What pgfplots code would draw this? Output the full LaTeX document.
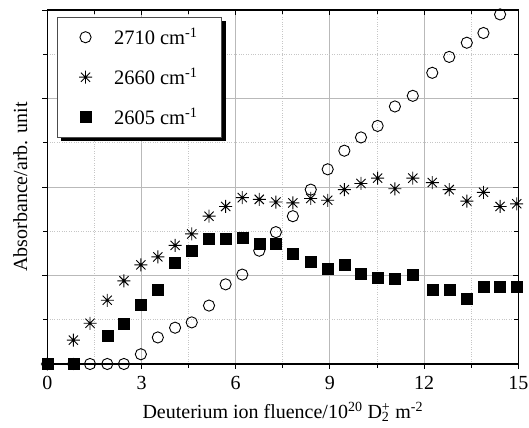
\documentclass[border=0pt]{standalone}
\usepackage{fontspec}
\setmainfont{Liberation Serif}
\usepackage{pgfplots}
\pgfplotsset{compat=1.18}
\usetikzlibrary{shadows}

% eight-armed star used for the 2660 cm-1 band
\pgfdeclareplotmark{star8}{%
  \pgfpathmoveto{\pgfqpoint{-\pgfplotmarksize}{0pt}}%
  \pgfpathlineto{\pgfqpoint{\pgfplotmarksize}{0pt}}%
  \pgfpathmoveto{\pgfqpoint{0pt}{-\pgfplotmarksize}}%
  \pgfpathlineto{\pgfqpoint{0pt}{\pgfplotmarksize}}%
  \pgfpathmoveto{\pgfqpoint{-0.7071\pgfplotmarksize}{-0.7071\pgfplotmarksize}}%
  \pgfpathlineto{\pgfqpoint{0.7071\pgfplotmarksize}{0.7071\pgfplotmarksize}}%
  \pgfpathmoveto{\pgfqpoint{-0.7071\pgfplotmarksize}{0.7071\pgfplotmarksize}}%
  \pgfpathlineto{\pgfqpoint{0.7071\pgfplotmarksize}{-0.7071\pgfplotmarksize}}%
  \pgfusepathqstroke}

\pgfplotstableread{
x     a     b     c
0     0     0     0
0.83  0     0.27  0
1.36  0     0.46  nan
1.91  0     0.72  0.32
2.44  0     0.94  0.46
2.98  0.11  1.12  0.67
3.52  0.30  1.21  0.84
4.07  0.41  1.34  1.14
4.60  0.47  1.47  1.28
5.15  0.66  1.67  1.42
5.68  0.90  1.78  1.42
6.21  1.01  1.88  1.43
6.75  1.28  1.86  1.36
7.28  1.49  1.83  1.36
7.82  1.67  1.82  1.25
8.39  1.97  1.87  1.16
8.93  2.20  1.85  1.08
9.46  2.41  1.97  1.12
9.99  2.56  2.04  1.02
10.52 2.69  2.10  0.98
11.07 2.91  1.98  0.96
11.64 3.03  2.10  1.01
12.26 3.29  2.05  0.84
12.80 3.47  1.97  0.84
13.36 3.63  1.84  0.74
13.89 3.74  1.94  0.87
14.42 3.95  1.78  0.87
14.95 4.02  1.81  0.87
}\fluence

\begin{document}
\begin{tikzpicture}
\pgfplotsset{
  frame/.style={
    scale only axis, width=471bp, height=354bp,
    xmin=0, xmax=15, ymin=0, ymax=4,
    xtick={0,3,...,15}, ytick={0,1,...,4},
    minor x tick num=1, minor y tick num=1,
    major tick length=5bp, minor tick length=4bp,
    every tick/.style={black, line width=0.9bp},
  }
}
\begin{axis}[
  frame, name=ax,
  axis line style={line width=1.3bp},
  xtick pos=left, ytick pos=left, tick align=outside,
  yticklabels={},
  grid=both,
  major grid style={gray!55, line width=0.9bp},
  minor grid style={gray!45, dotted, line width=0.8bp},
  font=\fontsize{20bp}{24bp}\selectfont,
  /pgf/number format/assume math mode=true,
  xticklabel style={font=\fontsize{20bp}{24bp}\selectfont, yshift=-4bp},
  xlabel={Deuterium ion fluence/10\textsuperscript{20} D\rlap{\textsubscript{2}}\textsuperscript{+} m\textsuperscript{-2}},
  ylabel={Absorbance/arb. unit},
  xlabel style={yshift=-5bp},
  ylabel style={at={(axis description cs:-0.057,0.5)}, anchor=center},
  legend style={at={(axis description cs:0.02,0.981)}, anchor=north west,
    draw=black!70, line width=0.6bp, fill=white,
    drop shadow={shadow xshift=4bp, shadow yshift=-4bp, fill=black, opacity=1},
    inner xsep=22bp, inner ysep=9bp, row sep=17.5bp,
    /tikz/every odd column/.style={column sep=20bp},
    font=\fontsize{20.5bp}{24bp}\selectfont},
  legend cell align=left,
  legend image code/.code={\draw[#1] plot coordinates {(0bp,0bp)};},
  clip marker paths=false,
]
\addplot[only marks, mark=o, mark size=5.6bp, line width=0.9bp, black] table[x=x, y=a] {\fluence};
\addplot[only marks, mark=star8, mark size=6.5bp, line width=0.9bp, black] table[x=x, y=b] {\fluence};
\addplot[only marks, mark=square*, mark size=5.5bp, black] table[x=x, y=c] {\fluence};
\legend{2710 cm\textsuperscript{-1}\ , 2660 cm\textsuperscript{-1}\ , 2605 cm\textsuperscript{-1}\ }
\end{axis}
\begin{axis}[
  frame,
  axis line style={line width=1.3bp},
  xtick pos=right, ytick pos=right, tick align=inside,
  xticklabels={}, yticklabels={},
]
\end{axis}
\pgfresetboundingbox
\path ([xshift=-47.3bp, yshift=-64bp]ax.south west) rectangle ([xshift=10.7bp, yshift=10bp]ax.north east);
\end{tikzpicture}
\end{document}
